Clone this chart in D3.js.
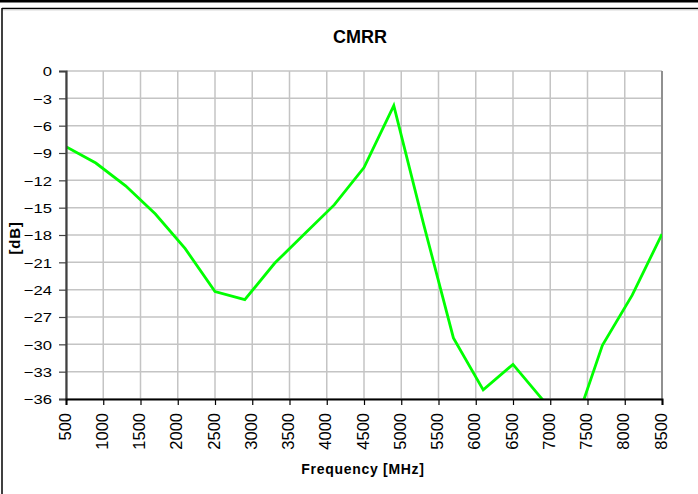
<!DOCTYPE html>
<html>
<head>
<meta charset="utf-8">
<script src="https://cdn.jsdelivr.net/npm/d3@7"></script>
<style>
  html, body { margin: 0; padding: 0; background: #fff; }
  svg { display: block; font-family: "Liberation Sans", Arial, Helvetica, sans-serif; }
</style>
</head>
<body>
<div id="chart"></div>
<script>
// CMRR data
const freq = [500, 900, 1300, 1700, 2100, 2500, 2900, 3300, 3700, 4100, 4500,
  4900, 5300, 5700, 6100, 6500, 6900, 7300, 7700, 8100, 8500];
const cmrr = [-8.3, -10.1, -12.6, -15.7, -19.5, -24.2, -25.1, -21.1, -17.9, -14.7, -10.6,
  -3.8, -16.8, -29.3, -35.0, -32.2, -36.1, -39.7, -30.1, -24.6, -17.9];
const xTicks = [500, 1000, 1500, 2000, 2500, 3000, 3500, 4000, 4500,
  5000, 5500, 6000, 6500, 7000, 7500, 8000, 8500];
const yTicks = [0, -3, -6, -9, -12, -15, -18, -21, -24, -27, -30, -33, -36];

const width = 698
const height = 494
const plot = { left: 66, right: 662, top: 71, bottom: 399 };

const svg = d3.select("#chart")
  .append("svg")
  .attr("width", width)
  .attr("height", height)

// outer frame (top band + box edges)
svg.append("rect").attr("x", 0).attr("y", 0).attr("width", width).attr("height", 2.5).attr("fill", "#000");
svg.append("line").attr("x1", 2).attr("x2", width).attr("y1", 8.5).attr("y2", 8.5)
  .attr("stroke", "#000").attr("stroke-width", 1.5);
svg.append("line").attr("x1", 2).attr("x2", width).attr("y1", 10).attr("y2", 10)
  .attr("stroke", "#d8d8d8").attr("stroke-width", 1);
svg.append("line").attr("x1", 2).attr("x2", 2).attr("y1", 8).attr("y2", height)
  .attr("stroke", "#000").attr("stroke-width", 1.5);

const x = d3.scaleLinear().domain([500, 8500]).range([plot.left, plot.right]);
const y = d3.scaleLinear().domain([-36, 0]).range([plot.bottom, plot.top]);

// gridlines
svg.append("g").selectAll("line")
  .data(xTicks)
  .join("line")
  .attr("x1", d => x(d)).attr("x2", d => x(d))
  .attr("y1", plot.top).attr("y2", plot.bottom)
  .attr("stroke", "#c4c4c4")
  .attr("stroke-width", 1.5);

svg.append("g").selectAll("line")
  .data(yTicks)
  .join("line")
  .attr("x1", plot.left).attr("x2", plot.right)
  .attr("y1", d => y(d)).attr("y2", d => y(d))
  .attr("stroke", "#c4c4c4")
  .attr("stroke-width", 1.5);

// right edge of plot area
svg.append("line")
  .attr("x1", plot.right).attr("x2", plot.right)
  .attr("y1", plot.top).attr("y2", plot.bottom)
  .attr("stroke", "#909090").attr("stroke-width", 2);

// clip for the series
svg.append("clipPath").attr("id", "plotClip")
  .append("rect")
  .attr("x", plot.left).attr("y", plot.top)
  .attr("width", plot.right - plot.left).attr("height", plot.bottom - plot.top);

const line = d3.line()
  .x((d, i) => x(freq[i]))
  .y(d => y(d));

svg.append("path")
  .datum(cmrr)
  .attr("clip-path", "url(#plotClip)")
  .attr("d", line)
  .attr("fill", "none")
  .attr("stroke", "#00ff00")
  .attr("stroke-width", 2.8)
  .attr("stroke-linejoin", "miter");

// y axis
const yLabelScale = 1.28;
const yAxis = svg.append("g")
  .attr("transform", `translate(${plot.left},0)`)
  .call(d3.axisLeft(y).tickValues(yTicks).tickSize(7).tickPadding(0).tickFormat(d3.format("d")));
yAxis.select(".domain").attr("stroke", "#404040").attr("stroke-width", 2.2);
yAxis.selectAll(".tick line").attr("stroke", "#404040").attr("stroke-width", 1.2);
yAxis.selectAll(".tick text")
  .attr("font-family", "Liberation Sans, Arial, sans-serif")
  .attr("font-size", "13px")
  .attr("fill", "#000")
  .attr("x", -14 / yLabelScale)
  .attr("dy", "0.36em")
  .attr("transform", `scale(${yLabelScale},1)`);

// x axis
const xAxis = svg.append("g")
  .attr("transform", `translate(0,${plot.bottom})`)
  .call(d3.axisBottom(x).tickValues(xTicks).tickSize(6).tickFormat(d3.format("d")));
xAxis.select(".domain").attr("stroke", "#000").attr("stroke-width", 2);
xAxis.selectAll(".tick line").attr("stroke", "#000").attr("stroke-width", 1.2);
xAxis.selectAll(".tick text")
  .attr("font-family", "Liberation Sans, Arial, sans-serif")
  .attr("font-size", "16.5px")
  .attr("fill", "#000")
  .attr("transform", "rotate(-90)")
  .attr("text-anchor", "end")
  .attr("x", -14)
  .attr("y", 4)
  .attr("dy", 0);

// title
svg.append("text")
  .attr("x", 360)
  .attr("y", 43)
  .attr("text-anchor", "middle")
  .style("font-size", "18px")
  .style("font-weight", "bold")
  .text("CMRR");

// axis titles
svg.append("text")
  .attr("x", 363)
  .attr("y", 474)
  .attr("text-anchor", "middle")
  .style("font-size", "14px")
  .style("font-weight", "bold")
  .style("letter-spacing", "0.7px")
  .text("Frequency [MHz]");

svg.append("text")
  .attr("transform", "translate(20,238) rotate(-90)")
  .attr("text-anchor", "middle")
  .style("font-size", "15px")
  .style("font-weight", "bold")
  .style("letter-spacing", "0.8px")
  .text("[dB]");
</script>
</body>
</html>
